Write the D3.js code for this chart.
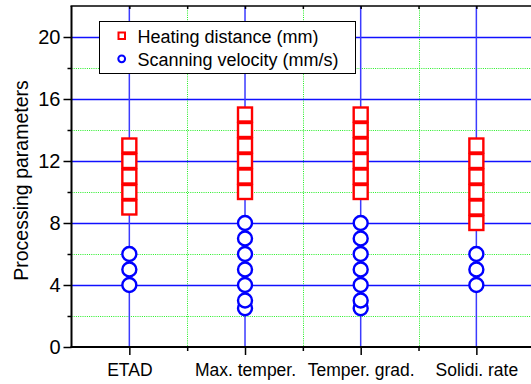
<!DOCTYPE html>
<html>
<head>
<meta charset="utf-8">
<script src="https://cdn.jsdelivr.net/npm/d3@7"></script>
<style>
  html, body { margin: 0; padding: 0; background: #fff; }
  svg { display: block; font-family: "Liberation Sans", Arial, Helvetica, sans-serif; }
</style>
</head>
<body>
<svg id="chart" width="531" height="384"></svg>
<script>
const categories = ["ETAD", "Max. temper.", "Temper. grad.", "Solidi. rate"];
const heatingDistance = [
  [9, 10, 11, 12, 13],
  [10, 11, 12, 13, 14, 15],
  [10, 11, 12, 13, 14, 15],
  [8, 9, 10, 11, 12, 13]
];
const scanningVelocity = [
  [4, 5, 6],
  [2.5, 3, 4, 5, 6, 7, 8],
  [2.5, 3, 4, 5, 6, 7, 8],
  [4, 5, 6]
];
const yMajorTicks = [0, 4, 8, 12, 16, 20];
const yMinorTicks = [2, 6, 10, 14, 18];
const xMinorTicks = [1.5, 2.5, 3.5];
const seriesNames = ["Heating distance (mm)", "Scanning velocity (mm/s)"];
const yTitle = "Processing parameters";

(function () {
const svg = d3.select("#chart");
const pL = 71.5, pR = 534.2, pT = 6, pB = 347;
const x = d3.scaleLinear().domain([0.5, 4.5]).range([pL, pR]);
const y = d3.scaleLinear().domain([0, 22]).range([pB, pT]);

// grid
const grid = svg.append("g");
grid.append("g").selectAll("line").data(yMinorTicks).join("line")
  .attr("x1", pL).attr("x2", pR)
  .attr("y1", d => Math.round(y(d)) + 0.5).attr("y2", d => Math.round(y(d)) + 0.5)
  .attr("stroke", "#22ee22").attr("stroke-width", 1).attr("stroke-dasharray", "1,1.2");
grid.append("g").selectAll("line").data(xMinorTicks).join("line")
  .attr("x1", d => Math.round(x(d)) + 0.5).attr("x2", d => Math.round(x(d)) + 0.5)
  .attr("y1", pT).attr("y2", pB)
  .attr("stroke", "#22ee22").attr("stroke-width", 1).attr("stroke-dasharray", "1,1.2");
grid.append("g").selectAll("line").data(yMajorTicks.slice(1)).join("line")
  .attr("x1", pL).attr("x2", pR)
  .attr("y1", d => Math.round(y(d)) + 0.5).attr("y2", d => Math.round(y(d)) + 0.5)
  .attr("stroke", "#1010ff").attr("stroke-width", 1.3);
grid.append("g").selectAll("line").data(d3.range(1, categories.length + 1)).join("line")
  .attr("x1", d => x(d)).attr("x2", d => x(d))
  .attr("y1", pT).attr("y2", pB)
  .attr("stroke", "#3b3bff").attr("stroke-width", 1.5);

// axes
const yAxis = svg.append("g").attr("transform", `translate(${pL},0)`)
  .call(d3.axisLeft(y).tickValues(yMajorTicks).tickSize(8).tickPadding(3).tickFormat(d3.format("d")));
const yAxisMinor = svg.append("g").attr("transform", `translate(${pL},0)`)
  .call(d3.axisLeft(y).tickValues(yMinorTicks).tickSize(4).tickFormat(""));
const xAxis = svg.append("g").attr("transform", `translate(0,${pB})`)
  .call(d3.axisBottom(x).tickValues([1, 2, 3, 4]).tickSize(8).tickPadding(9)
    .tickFormat((d) => categories[d - 1]));
const xAxisMinor = svg.append("g").attr("transform", `translate(0,${pB})`)
  .call(d3.axisBottom(x).tickValues(xMinorTicks).tickSize(4).tickFormat(""));
const topAxis = svg.append("g").attr("transform", `translate(0,${pT})`)
  .call(d3.axisBottom(x).tickValues([1, 2, 3, 4, ...xMinorTicks]).tickSize(3).tickFormat(""));

[yAxis, yAxisMinor, xAxis, xAxisMinor, topAxis].forEach(g => {
  g.select(".domain").remove();
  g.selectAll(".tick line").attr("stroke", "#000").attr("stroke-width", 1.5);
});
yAxis.selectAll("text").attr("font-size", 20).attr("fill", "#000")
  .attr("font-family", "'Liberation Sans', Arial, sans-serif");
xAxis.selectAll("text").attr("font-size", 17.5).attr("fill", "#000")
  .attr("font-family", "'Liberation Sans', Arial, sans-serif");

// axis lines
svg.append("line").attr("x1", pL).attr("x2", pL).attr("y1", pT).attr("y2", pB + 1)
  .attr("stroke", "#000").attr("stroke-width", 2);
svg.append("line").attr("x1", pL - 1).attr("x2", 531).attr("y1", pB).attr("y2", pB)
  .attr("stroke", "#000").attr("stroke-width", 2);
svg.append("line").attr("x1", pL - 1).attr("x2", 531).attr("y1", pT).attr("y2", pT)
  .attr("stroke", "#000").attr("stroke-width", 1.5);

// y title
svg.append("text")
  .attr("transform", `translate(28,${(pT + pB) / 2 + 4}) rotate(-90)`)
  .attr("text-anchor", "middle").attr("font-size", 19.5).attr("fill", "#000")
  .text(yTitle);

// markers
const half = 7;
const marks = svg.append("g");
categories.forEach((c, i) => {
  const cx = x(i + 1);
  marks.append("g").selectAll("circle").data(scanningVelocity[i]).join("circle")
    .attr("cx", cx).attr("cy", d => y(d)).attr("r", half)
    .attr("fill", "#fff").attr("stroke", "#0000ff").attr("stroke-width", 2.4);
  marks.append("g").selectAll("rect").data(heatingDistance[i]).join("rect")
    .attr("x", cx - half).attr("y", d => y(d) - half)
    .attr("width", half * 2).attr("height", half * 2)
    .attr("fill", "#fff").attr("stroke", "#ff0000").attr("stroke-width", 2.4);
});

// legend
const lg = svg.append("g");
lg.append("rect").attr("x", 99.5).attr("y", 21.5).attr("width", 256).attr("height", 52)
  .attr("fill", "#fff").attr("stroke", "#000").attr("stroke-width", 1);
lg.append("rect").attr("x", 118.5).attr("y", 32.5).attr("width", 6.5).attr("height", 6.5)
  .attr("fill", "#fff").attr("stroke", "#ff0000").attr("stroke-width", 2);
lg.append("circle").attr("cx", 121.7).attr("cy", 58.8).attr("r", 3.4)
  .attr("fill", "#fff").attr("stroke", "#0000ff").attr("stroke-width", 2);
lg.append("text").attr("x", 137.5).attr("y", 43.3).attr("font-size", 18).attr("fill", "#000").text(seriesNames[0]);
lg.append("text").attr("x", 137.5).attr("y", 65.5).attr("font-size", 18).attr("fill", "#000").text(seriesNames[1]);
})();
</script>
</body>
</html>
